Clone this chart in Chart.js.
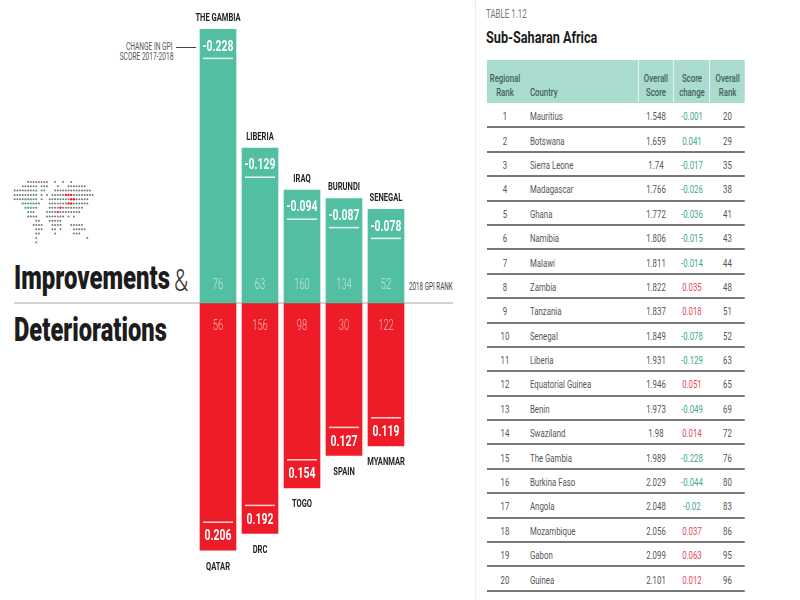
<!DOCTYPE html>
<html>
<head>
<meta charset="utf-8">
<title>Improvements & Deteriorations</title>
<script src="https://cdn.jsdelivr.net/npm/chart.js@4"></script>
<style>
  html, body { margin: 0; padding: 0; background: #fff; }
  body { width: 800px; height: 600px; position: relative; overflow: hidden; font-family: Roboto, sans-serif; }
  canvas { position: absolute; }
  .txt { position: absolute; white-space: nowrap; transform-origin: left top; }
  .right { transform-origin: right top; }
  #baseline { position: absolute; left: 14px; top: 302px; width: 439px; height: 2px; background: #d4d4d4; }
  #gutter { position: absolute; left: 475px; top: 0; height: 600px; border-left: 1px dotted #ddd; }
  #arrow { position: absolute; left: 176px; top: 46.5px; width: 20px; height: 1.5px; background: #444; }
  h1 { position: absolute; left: 14px; margin: 0; font-size: 33px; line-height: 36px; font-weight: 900; color: #1c1c1c; transform-origin: left top; white-space: nowrap; }
  #gpiTable { position: absolute; left: 487px; top: 60px; width: 379.4px; border-collapse: collapse; table-layout: fixed; font-size: 11.5px; color: #555; transform: scaleX(0.68); transform-origin: left top; }
  #gpiTable thead tr { background: #a9dccf; }
  #gpiTable th { height: 43px; padding: 0 0 4px; vertical-align: bottom; font-weight: 500; font-size: 11.5px; line-height: 13.5px; color: #44605a; box-sizing: border-box; text-align: center; border-left: 1.5px solid #fff; }
  #gpiTable th:nth-child(1), #gpiTable th:nth-child(2) { border-left: none; }
  #gpiTable th:nth-child(2) { text-align: left; padding-left: 10.3px; }
  #gpiTable td { height: 24.4px; padding: 2px 0 0; box-sizing: border-box; text-align: center; border-bottom: 2px solid #777; }
  #gpiTable td:nth-child(2) { text-align: left; padding-left: 10.3px; }
</style>
</head>
<body>
<div id="baseline"></div>
<div id="gutter"></div>
<div id="arrow"></div>

<div class="txt right" style="right:627px;top:41px;font-size:10px;color:#555;transform:scaleX(0.66);">CHANGE IN GPI</div>
<div class="txt right" style="right:627px;top:51px;font-size:10px;color:#555;transform:scaleX(0.66);">SCORE 2017-2018</div>
<div class="txt" style="left:409px;top:281px;font-size:10px;color:#444;transform:scaleX(0.63);">2018 GPI RANK</div>

<h1 style="top:260px;transform:scaleX(0.725);">Improvements</h1>
<div class="txt" style="left:174px;top:261px;font-size:32px;font-weight:300;color:#333;transform:scaleX(0.72);">&amp;</div>
<h1 style="top:312px;transform:scaleX(0.718);">Deteriorations</h1>

<div class="txt" style="left:486px;top:7px;font-size:12px;color:#777;transform:scaleX(0.66);">TABLE 1.12</div>
<div class="txt" style="left:486px;top:27px;font-size:17px;font-weight:700;color:#1c1c1c;transform:scaleX(0.745);">Sub-Saharan Africa</div>

<table id="gpiTable">
  <colgroup><col style="width:52.9px"><col style="width:169.1px"><col style="width:52.9px"><col style="width:52.9px"><col style="width:51.5px"></colgroup>
  <thead><tr id="headRow"></tr></thead>
  <tbody id="tableBody"></tbody>
</table>

<canvas id="mapChart" width="85" height="70" style="left:10px;top:175px;"></canvas>
<canvas id="barChart" width="800" height="600" style="left:0;top:0;"></canvas>

<script>
// Bars
const columns = [0, 1, 2, 3, 4];
const improvedNames = ['THE GAMBIA', 'LIBERIA', 'IRAQ', 'BURUNDI', 'SENEGAL'];
const improvedChange = [-0.228, -0.129, -0.094, -0.087, -0.078];
const improvedRank = [76, 63, 160, 134, 52];
const worseNames = ['QATAR', 'DRC', 'TOGO', 'SPAIN', 'MYANMAR'];
const worseChange = [0.206, 0.192, 0.154, 0.127, 0.119];
const worseRank = [56, 156, 98, 30, 122];

// Table
const tableHeaders = ['Regional<br>Rank', 'Country', 'Overall<br>Score', 'Score<br>change', 'Overall<br>Rank'];
const regionalRank = [1, 2, 3, 4, 5, 6, 7, 8, 9, 10, 11, 12, 13, 14, 15, 16, 17, 18, 19, 20];
const countries = ['Mauritius', 'Botswana', 'Sierra Leone', 'Madagascar', 'Ghana', 'Namibia', 'Malawi', 'Zambia', 'Tanzania', 'Senegal', 'Liberia', 'Equatorial Guinea', 'Benin', 'Swaziland', 'The Gambia', 'Burkina Faso', 'Angola', 'Mozambique', 'Gabon', 'Guinea'];
const overallScore = ['1.548', '1.659', '1.74', '1.766', '1.772', '1.806', '1.811', '1.822', '1.837', '1.849', '1.931', '1.946', '1.973', '1.98', '1.989', '2.029', '2.048', '2.056', '2.099', '2.101'];
const scoreChange = ['-0.001', '0.041', '-0.017', '-0.026', '-0.036', '-0.015', '-0.014', '0.035', '0.018', '-0.078', '-0.129', '0.051', '-0.049', '0.014', '-0.228', '-0.044', '-0.02', '0.037', '0.063', '0.012'];
const changeIsGood = [1, 1, 1, 1, 1, 1, 1, 0, 0, 1, 1, 0, 1, 0, 1, 1, 1, 0, 0, 0];
const overallRank = [20, 29, 35, 38, 41, 43, 44, 48, 51, 52, 63, 65, 69, 72, 76, 80, 83, 86, 95, 96];

// Dot map, one string per row: o grey, G green, R red
const mapRows = [
  '     oooooooo  o  o  o',
  '   oooooo ooo   o   ooooooo',
  'ooooooooG oo   oooooooooooooo',
  'ooooooooo o o oooooRRRoooooooo',
  'ooooGoGoo o  ooooooooRRooooo',
  '   GoooGoo   oooooooRRoooooo',
  '    GGGoo    ooooRoooooooo',
  '     ooo    ooooRoooooooo',
  '     oooo   ooooooo o o',
  '        oo   ooooo',
  '       oooo   oooo   ooooo',
  '        ooo   oo o    ooooo',
  '        oo     o      ooo',
  '        o                  o',
  '        o'
];

const barGreen = '#52bfa3';
const barRed = '#ed1c28';
const barFont = 'Roboto, sans-serif';

// Writes the names, values and ranks on the bars
const barLabels = {
  id: 'barLabels',
  afterDatasetsDraw(chart) {
    const ctx = chart.ctx;
    const yScale = chart.scales.y;
    ctx.save();
    ctx.textAlign = 'center';
    ctx.textBaseline = 'middle';

    // The original type is condensed, so squeeze Roboto sideways
    function put(text, x, y, font, color, squeeze) {
      ctx.save();
      ctx.translate(x, y + 1);
      ctx.scale(squeeze, 1);
      ctx.font = font;
      ctx.fillStyle = color;
      ctx.fillText(text, 0, 0);
      ctx.restore();
    }
    function rule(x, y, color) {
      ctx.strokeStyle = color;
      ctx.lineWidth = 1.5;
      ctx.beginPath();
      ctx.moveTo(x - 15, y);
      ctx.lineTo(x + 15, y);
      ctx.stroke();
    }

    const zero = yScale.getPixelForValue(0);
    columns.forEach(function(i) {
      const x = chart.getDatasetMeta(0).data[i].x;

      const top = yScale.getPixelForValue(improvedChange[i]);
      put(improvedNames[i], x, top - 12, 'bold 10.5px ' + barFont, '#1f1f1f', 0.72);
      put(improvedChange[i].toFixed(3), x, top + 16.5, 'bold 14.5px ' + barFont, '#fff', 0.72);
      rule(x, top + 29, 'rgba(255,255,255,0.85)');
      put(String(improvedRank[i]), x, zero - 19, '300 15px ' + barFont, 'rgba(255,255,255,0.65)', 0.62);

      const bottom = yScale.getPixelForValue(worseChange[i]);
      put(worseNames[i], x, bottom + 16, 'bold 10.5px ' + barFont, '#1f1f1f', 0.72);
      put(worseChange[i].toFixed(3), x, bottom - 14.5, 'bold 14.5px ' + barFont, '#fff', 0.72);
      rule(x, bottom - 28, 'rgba(255,255,255,0.8)');
      put(String(worseRank[i]), x, zero + 22, '300 15px ' + barFont, 'rgba(255,255,255,0.65)', 0.62);
    });
    ctx.restore();
  }
};

new Chart(document.getElementById('barChart').getContext('2d'), {
  type: 'bar',
  data: {
    labels: improvedNames,
    datasets: [
      { data: improvedChange, backgroundColor: barGreen, barThickness: 36, grouped: false },
      { data: worseChange, backgroundColor: barRed, barThickness: 36, grouped: false }
    ]
  },
  options: {
    responsive: false,
    animation: false,
    devicePixelRatio: 1,
    layout: { padding: { left: 197, right: 393, top: 3, bottom: 9 } },
    plugins: { legend: { display: false }, tooltip: { enabled: false } },
    scales: {
      x: { display: false },
      // Improvements are negative and go up
      y: { display: false, reverse: true, min: -0.25, max: 0.24 }
    }
  },
  plugins: [barLabels]
});

// Turn the map rows into scatter points
function mapPoints(letter) {
  const points = [];
  mapRows.forEach(function(row, r) {
    row.split('').forEach(function(c, col) {
      if (c === letter) points.push({ x: col, y: r });
    });
  });
  return points;
}

new Chart(document.getElementById('mapChart').getContext('2d'), {
  type: 'scatter',
  data: {
    datasets: [
      { data: mapPoints('o'), backgroundColor: '#77787b', pointRadius: 1, pointBorderWidth: 0 },
      { data: mapPoints('G'), backgroundColor: '#4fc0a5', pointRadius: 1.2, pointBorderWidth: 0 },
      { data: mapPoints('R'), backgroundColor: '#ed1c28', pointRadius: 1.2, pointBorderWidth: 0 }
    ]
  },
  options: {
    responsive: false,
    animation: false,
    devicePixelRatio: 1,
    layout: { autoPadding: false },
    plugins: { legend: { display: false }, tooltip: { enabled: false } },
    scales: {
      x: { display: false, min: -1.75, max: 29.85 },
      y: { display: false, reverse: true, min: -1.63, max: 14.65 }
    }
  }
});

// Fill the table
document.getElementById('headRow').innerHTML = tableHeaders.map(h => '<th>' + h + '</th>').join('');
document.getElementById('tableBody').innerHTML = regionalRank.map(function(rank, i) {
  const color = changeIsGood[i] ? '#3fa893' : '#e8475a';
  return '<tr><td>' + rank + '</td><td>' + countries[i] + '</td><td>' + overallScore[i] +
    '</td><td style="color:' + color + '">' + scoreChange[i] + '</td><td>' + overallRank[i] + '</td></tr>';
}).join('');
</script>
</body>
</html>
